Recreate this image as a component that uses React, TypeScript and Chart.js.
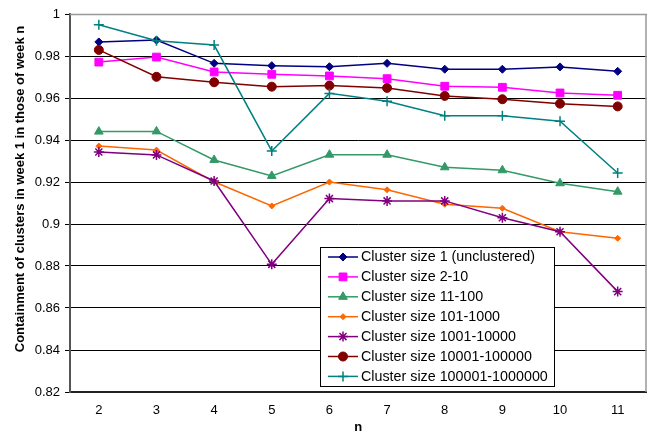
import React, { useEffect, useRef } from "react";
import { Chart, registerables } from "chart.js";
import { drawPoint } from "chart.js/helpers";

Chart.register(...registerables);

const categories = ["2", "3", "4", "5", "6", "7", "8", "9", "10", "11"];

const size1 = [0.9867, 0.9876, 0.9765, 0.9754, 0.9749, 0.9765, 0.9737, 0.9737, 0.9748, 0.9727];
const size2_10 = [0.9771, 0.9795, 0.9724, 0.9713, 0.9705, 0.9692, 0.9656, 0.9651, 0.9624, 0.9613];
const size11_100 = [0.944, 0.9441, 0.9305, 0.9229, 0.933, 0.933, 0.927, 0.9256, 0.9194, 0.9154];
const size101_1000 = [0.9371, 0.9352, 0.9201, 0.9086, 0.92, 0.9163, 0.9094, 0.9075, 0.8963, 0.8932];
const size1001_10000 = [0.9343, 0.9329, 0.9205, 0.8808, 0.9121, 0.911, 0.911, 0.903, 0.8963, 0.8678];
const size10001_100000 = [0.9829, 0.9701, 0.9675, 0.9654, 0.9659, 0.9648, 0.961, 0.9594, 0.9573, 0.956];
const size100001_1000000 = [0.9949, 0.9873, 0.9852, 0.9348, 0.9622, 0.9584, 0.9516, 0.9516, 0.9489, 0.9243];

const seriesLabels = [
  "Cluster size 1 (unclustered)",
  "Cluster size 2-10",
  "Cluster size 11-100",
  "Cluster size 101-1000",
  "Cluster size 1001-10000",
  "Cluster size 10001-100000",
  "Cluster size 100001-1000000",
];
const seriesData = [size1, size2_10, size11_100, size101_1000, size1001_10000, size10001_100000, size100001_1000000];
const seriesColors = ["#000080", "#FF00FF", "#339966", "#FF6600", "#800080", "#800000", "#008080"];
const seriesStyles = ["rectRot", "rect", "triangle", "rectRot", "star", "circle", "cross"];
const seriesRadius = [4, 5.5, 5, 3, 5, 4.5, 5];

const yTitle = "Containment of clusters in week 1 in those of week n";
const xTitle = "n";

const FONT = "'Liberation Sans', Arial, sans-serif";

const frameAndLegend = {
  id: "frameAndLegend",
  beforeDatasetsDraw(chart: any) {
    const { ctx, chartArea } = chart;
    ctx.save();
    ctx.strokeStyle = "#999999";
    ctx.lineWidth = 1.5;
    ctx.beginPath();
    ctx.moveTo(chartArea.left, chartArea.top + 0.5);
    ctx.lineTo(chartArea.right - 0.5, chartArea.top + 0.5);
    ctx.lineTo(chartArea.right - 0.5, chartArea.bottom);
    ctx.stroke();
    ctx.restore();
  },
  afterDraw(chart: any) {
    const { ctx } = chart;
    // y axis title
    ctx.save();
    ctx.translate(20, 189);
    ctx.rotate(-Math.PI / 2);
    ctx.font = `bold 13px ${FONT}`;
    ctx.fillStyle = "#000";
    ctx.textAlign = "center";
    ctx.textBaseline = "middle";
    ctx.fillText(yTitle, 0, 0);
    ctx.restore();

    const bx = 320.5, by = 247.5, bw = 234, bh = 139;
    ctx.save();
    ctx.fillStyle = "#ffffff";
    ctx.fillRect(bx, by, bw, bh);
    ctx.strokeStyle = "#000000";
    ctx.lineWidth = 1;
    ctx.strokeRect(bx, by, bw, bh);
    ctx.font = `14.3px ${FONT}`;
    ctx.textBaseline = "middle";
    ctx.textAlign = "left";
    chart.data.datasets.forEach((ds: any, i: number) => {
      const y = 257 + i * 19.9;
      ctx.strokeStyle = ds.borderColor;
      ctx.lineWidth = 1.5;
      ctx.beginPath();
      ctx.moveTo(328, y);
      ctx.lineTo(358, y);
      ctx.stroke();
      ctx.fillStyle = ds.pointBackgroundColor;
      ctx.strokeStyle = ds.pointBorderColor;
      ctx.lineWidth = ds.pointBorderWidth;
      drawPoint(ctx, { pointStyle: ds.pointStyle, radius: ds.pointRadius, rotation: 0, borderWidth: ds.pointBorderWidth }, 343, y);
      ctx.fillStyle = "#000000";
      ctx.fillText(ds.label, 361, y + 0.5);
    });
    ctx.restore();
  },
};

export default function App() {
  const ref = useRef<HTMLCanvasElement | null>(null);
  useEffect(() => {
    if (!ref.current) return;
    const datasets = seriesData.map((d, i) => ({
      label: seriesLabels[i],
      data: d,
      borderColor: seriesColors[i],
      backgroundColor: seriesColors[i],
      pointBackgroundColor: seriesColors[i],
      pointBorderColor: seriesColors[i],
      pointBorderWidth: seriesStyles[i] === "star" || seriesStyles[i] === "cross" ? 1.5 : 1,
      borderWidth: 1.5,
      pointStyle: seriesStyles[i],
      pointRadius: seriesRadius[i],
      tension: 0,
      order: 6 - i,
    }));
    const chart = new Chart(ref.current, {
      type: "line",
      data: { labels: categories, datasets },
      plugins: [frameAndLegend],
      options: {
        responsive: false,
        animation: false,
        devicePixelRatio: 1,
        layout: { padding: { left: 0, top: 14, right: 4, bottom: 0 } },
        plugins: { legend: { display: false }, tooltip: { enabled: false } },
        scales: {
          x: {
            offset: true,
            grid: { display: false, drawTicks: false },
            border: { display: true, color: "#222222", width: 2 },
            ticks: { color: "#000", font: { family: FONT, size: 13 }, padding: 11 },
            title: { display: true, text: xTitle, color: "#000", font: { family: FONT, size: 13, weight: "bold" }, padding: { top: 0, bottom: 0 } },
            afterFit: (s: any) => { s.height = 43; },
          },
          y: {
            min: 0.82,
            max: 1,
            grid: { color: "#000000", lineWidth: 1, tickLength: 5, drawTicks: true },
            border: { display: true, color: "#555555", width: 2 },
            ticks: {
              stepSize: 0.02,
              color: "#000",
              font: { family: FONT, size: 13 },
              padding: 5,
              callback: (v: any) => String(+Number(v).toFixed(2)),
            },
            title: { display: false },
            afterFit: (s: any) => { s.width = 70; },
          },
        },
      },
    } as any);
    return () => chart.destroy();
  }, []);
  return (
    <div style={{ position: "absolute", left: 0, top: 0, width: 653, height: 435, background: "#fff" }}>
      <canvas ref={ref} width={653} height={435} style={{ display: "block" }} />
    </div>
  );
}
